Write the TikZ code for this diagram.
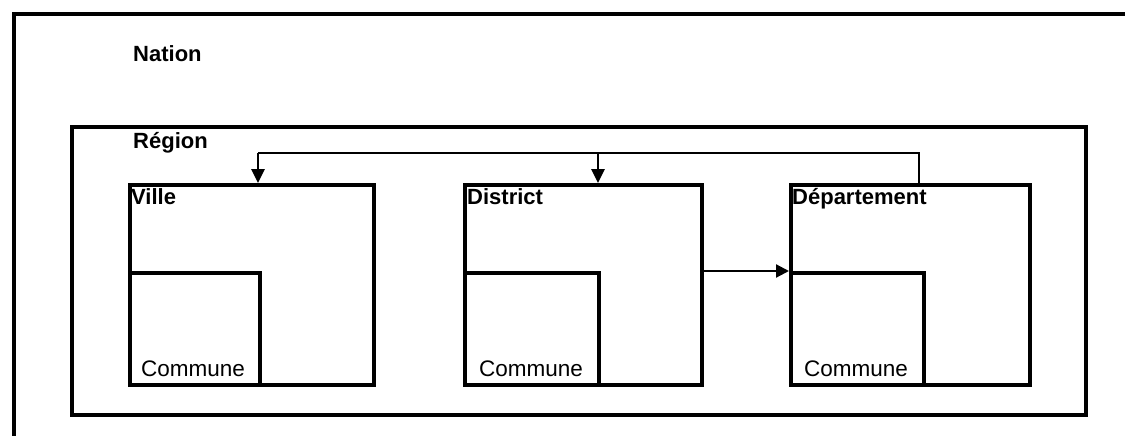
\documentclass[tikz,border=0pt]{standalone}
\usepackage{fontspec}
\setmainfont{Liberation Sans}
\usetikzlibrary{arrows.meta,calc}
\begin{document}
\begin{tikzpicture}[x=1pt,y=-1pt,
  box/.style={draw=black,line width=4.4pt,rectangle,inner sep=0pt,anchor=north west,fill=none},
  lab/.style={font=\fontsize{22}{26}\selectfont\bfseries,inner sep=0pt,anchor=base west},
  comlab/.style={font=\fontsize{22.5}{26}\selectfont,inner sep=0pt,anchor=base},
  thinline/.style={draw=black,line width=1.4pt},
  arr/.style={draw=black,line width=2.8pt,-{Triangle[width=13pt,length=14pt]}},
  harr/.style={draw=black,line width=2.2pt,-{Triangle[width=13pt,length=13pt]}}]
\useasboundingbox (0,0) rectangle (1125,436);
\clip (0,0) rectangle (1125,436);
% boxes
\node[box,minimum width=1140pt,minimum height=440pt] (nation) at (12,12) {};
\node[box,minimum width=1014pt,minimum height=288pt] (region) at (70,125) {};
\node[box,minimum width=244pt,minimum height=200pt] (ville) at (128,183) {};
\node[box,minimum width=130pt,minimum height=112pt] (vcom) at (128,271) {};
\node[box,minimum width=237pt,minimum height=200pt] (district) at (463,183) {};
\node[box,minimum width=134pt,minimum height=112pt] (dcom) at (463,271) {};
\node[box,minimum width=239pt,minimum height=200pt] (dept) at (789,183) {};
\node[box,minimum width=133pt,minimum height=112pt] (pcom) at (789,271) {};
% labels
\node[lab] (tnation) at (133,62) {Nation};
\node[lab] (tregion) at (133,148) {Région};
\node[lab] (tville) at (131,204) {Ville};
\node[lab] (tdistrict) at (467,204) {District};
\node[lab] (tdept) at (792,204) {Département};
\node[comlab] (tvcom) at (193,376) {Commune};
\node[comlab] (tdcom) at (531,376) {Commune};
\node[comlab] (tpcom) at (856,376) {Commune};
% connectors
\coordinate (j1) at (258,153);
\coordinate (j2) at (598,153);
\coordinate (j3) at (919,153);
\coordinate (h1) at (701,271);
\draw[thinline] (j1) -- (j3) -- (j3 |- dept.north);
\draw[arr] (j1) -- (j1 |- ville.north);
\draw[arr] (j2) -- (j2 |- district.north);
\draw[harr] (h1) -- (h1 -| dept.west);
\end{tikzpicture}
\end{document}
